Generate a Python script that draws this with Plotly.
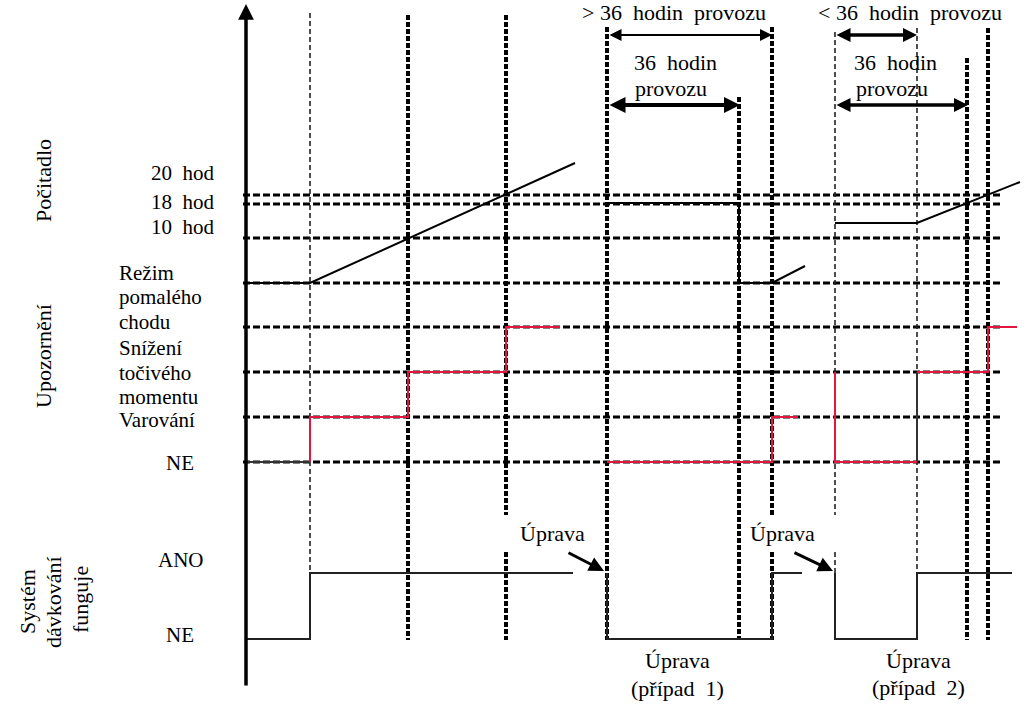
import plotly.graph_objects as go

W, H = 1032, 718
FONT = "Liberation Serif"
NB = "\u00a0"

# ---------------- data (diagram units: time along x, level rows along y) -------------
# time marks (vertical guide lines)
mark_t = [310, 408, 506, 607, 739, 772, 835, 917, 967, 988]
mark_start = [13, 15, 15, 27, 97, 27, 32, 28, 58, 28]
mark_end = [640, 640, 640, 640, 640, 640, 640, 640, 640, 640]
mark_heavy = [False, True, True, True, True, True, False, False, True, True]
gap_marks = [506, 772, 835]
gap_span = [515, 552]

# level rows (horizontal guide lines)
level_y = [195, 204, 238, 283, 327, 372, 417, 462]
level_x = [243, 1003]

# counter signal (Počitadlo)
counter_t = [246, 310, 575, None, 607, 739, 739, 772, 805, None, 835, 917, 1020]
counter_v = [283, 283, 163, None, 203, 203, 283, 283, 266, None, 223, 223, 182]

# warning signal (Upozornění)
warn_t = [310, 310, 408, 408, 506, 506, 560, None, 607, 772, 772, 798, None,
          835, 835, 917, None, 917, 988, 988, 1017]
warn_v = [462, 417, 417, 372, 372, 327, 327, None, 462, 462, 417, 417, None,
          372, 462, 462, None, 372, 372, 327, 327]
warn_pre_t = [246, 310, None, 917, 917]
warn_pre_v = [462, 462, None, 462, 372]

# dosing system signal (Systém dávkování funguje)
system_t = [246, 310, 310, 573, None, 607, 607, 772, 772, 802, None,
            835, 835, 917, 917, 1012]
system_v = [639, 639, 573, 573, None, 573, 639, 639, 573, 573, None,
            573, 639, 639, 573, 573]

# ---------------- figure -------------------------------------------------------------
fig = go.Figure()

# horizontal guides
hx, hy = [], []
for y in level_y:
    hx += [level_x[0], level_x[1], None]
    hy += [y, y, None]
fig.add_trace(go.Scatter(x=hx, y=hy, mode="lines",
                         line=dict(color="black", width=3.2, dash="7px,3px"),
                         hoverinfo="skip"))

# vertical guides
def vsegments(heavy):
    xs, ys = [], []
    for t, a, b, hv in zip(mark_t, mark_start, mark_end, mark_heavy):
        if hv != heavy:
            continue
        if t in gap_marks:
            xs += [t, t, None, t, t, None]
            ys += [a, gap_span[0], None, gap_span[1], b, None]
        else:
            xs += [t, t, None]
            ys += [a, b, None]
    return xs, ys

vx, vy = vsegments(True)
fig.add_trace(go.Scatter(x=vx, y=vy, mode="lines",
                         line=dict(color="black", width=4, dash="5px,2px"),
                         hoverinfo="skip"))
vx, vy = vsegments(False)
fig.add_trace(go.Scatter(x=vx, y=vy, mode="lines",
                         line=dict(color="#222222", width=1.6, dash="5px,3px"),
                         hoverinfo="skip"))

# signals
fig.add_trace(go.Scatter(x=counter_t, y=counter_v, mode="lines",
                         line=dict(color="black", width=2), hoverinfo="skip"))
fig.add_trace(go.Scatter(x=warn_pre_t, y=warn_pre_v, mode="lines",
                         line=dict(color="#333333", width=2), hoverinfo="skip"))
fig.add_trace(go.Scatter(x=warn_t, y=warn_v, mode="lines",
                         line=dict(color="#e3173e", width=2), hoverinfo="skip"))
fig.add_trace(go.Scatter(x=system_t, y=system_v, mode="lines",
                         line=dict(color="#222222", width=2), hoverinfo="skip"))

ann = []

def txt(x, y, s, size=21, xanchor="center", angle=0):
    ann.append(dict(x=x, y=y, xref="x", yref="y", text=s, showarrow=False,
                    xanchor=xanchor, yanchor="middle", textangle=angle,
                    font=dict(family=FONT, size=size, color="black")))

def arrow(x0, y0, x1, y1, width=2, both=False, head=2, size=1.0):
    d = dict(x=x1, y=y1, ax=x0, ay=y0, xref="x", yref="y", axref="x", ayref="y",
             text="", showarrow=True, arrowhead=head, arrowsize=size,
             arrowwidth=width, arrowcolor="black", standoff=0, startstandoff=0)
    if both:
        d.update(arrowside="end+start", startarrowhead=head, startarrowsize=size)
    ann.append(d)

# main vertical axis with arrow
arrow(246, 687, 246, 4, width=3.5, head=2, size=0.9)

# top spans
arrow(608, 35, 772, 35, width=2, both=True, size=1.2)
arrow(608, 105, 740, 105, width=4, both=True, size=0.8)
arrow(835, 35, 917, 35, width=3.5, both=True, size=0.8)
arrow(835, 105, 968, 105, width=3.5, both=True, size=0.8)

# Úprava pointers
arrow(567, 552, 604, 571, width=3, size=1.0)
arrow(793, 552, 833, 571, width=3, size=1.0)

sp2 = NB + NB
txt(674, 12, ">" + NB + "36" + sp2 + "hodin" + sp2 + "provozu", size=22)
txt(910, 12, "<" + NB + "36" + sp2 + "hodin" + sp2 + "provozu", size=22)
txt(675, 62, "36" + sp2 + "hodin", size=22)
txt(671, 88, "provozu", size=22)
txt(895, 62, "36" + sp2 + "hodin", size=22)
txt(892, 88, "provozu", size=22)

# left labels
txt(217, 173, "20" + sp2 + "hod", xanchor="right")
txt(217, 202, "18" + sp2 + "hod", xanchor="right")
txt(217, 227, "10" + sp2 + "hod", xanchor="right")
for s, y in zip(["Režim", "pomalého", "chodu", "Snížení", "točivého", "momentu", "Varování"],
                [273, 297, 322, 348, 373, 397, 420]):
    txt(117, y, s, xanchor="left")
txt(196, 463, "NE", xanchor="right")
txt(206, 560, "ANO", xanchor="right")
txt(196, 635, "NE", xanchor="right")

txt(43, 181, "Počitadlo", size=22, angle=-90)
txt(43, 356, "Upozornění", size=22, angle=-90)
txt(27, 602, "Systém", size=22, angle=-90)
txt(53, 602, "dávkování", size=22, angle=-90)
txt(80, 600, "funguje", size=22, angle=-90)

# Úprava labels
txt(552, 533, "Úprava", size=22)
txt(782, 533, "Úprava", size=22)
txt(677, 660, "Úprava", size=22)
txt(677, 688, "(případ" + sp2 + "1)", size=22)
txt(918, 660, "Úprava", size=22)
txt(918, 687, "(případ" + sp2 + "2)", size=22)

fig.update_layout(
    width=W, height=H, autosize=False,
    margin=dict(l=0, r=0, t=0, b=0, pad=0),
    paper_bgcolor="white", plot_bgcolor="white",
    showlegend=False,
    xaxis=dict(range=[0, W], visible=False, fixedrange=True),
    yaxis=dict(range=[H, 0], visible=False, fixedrange=True),
    annotations=ann,
)

fig.write_html("out.html", include_plotlyjs=True,
               config={"displayModeBar": False},
               post_script="document.body.style.margin='0';document.body.style.overflow='hidden';")
